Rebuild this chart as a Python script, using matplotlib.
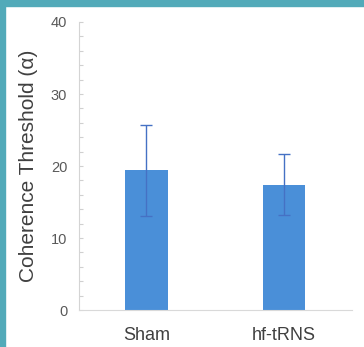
import numpy as np
import matplotlib.pyplot as plt
from matplotlib.ticker import MultipleLocator

plt.rcParams['font.family'] = ['Liberation Sans', 'DejaVu Sans']

groups = ["Sham", "hf-tRNS"]
means = [19.4, 17.4]
errors = [6.3, 4.2]

fig = plt.figure(figsize=(3.64, 3.47), dpi=100)
fig.patch.set_facecolor("white")

# teal frame at top and left edges
fig.patches.append(plt.Rectangle((0, 0), 0.015, 1, transform=fig.transFigure,
                                 color="#52aab9", zorder=0))
fig.patches.append(plt.Rectangle((0, 0.982), 1, 0.018, transform=fig.transFigure,
                                 color="#52aab9", zorder=0))

ax = fig.add_axes([0.217, 0.1066, 0.75, 0.83])
x = np.arange(len(groups))
ax.bar(x, means, width=0.31, color="#4a8fd8", zorder=2)
ax.errorbar(x, means, yerr=errors, fmt="none", ecolor="#4571c4",
            elinewidth=1.0, capsize=4, capthick=1.0, zorder=3)

ax.set_xlim(-0.49, 1.495)
ax.set_ylim(0, 40)
ax.yaxis.set_major_locator(MultipleLocator(10))
ax.yaxis.set_minor_locator(MultipleLocator(2))
ax.set_xticks(x)
ax.set_xticklabels(groups)

for s in ["top", "right"]:
    ax.spines[s].set_visible(False)
ax.spines["left"].set_color("#d4d4d4")
ax.spines["bottom"].set_color("#d9d9d9")

ax.tick_params(axis="y", which="both", direction="in", length=3, width=0.8,
               color="#d0d0d0", labelsize=10.5, labelcolor="#595959", pad=8.5)
ax.tick_params(axis="x", length=0, labelsize=13, labelcolor="#404040", pad=12)
ax.set_ylabel("Coherence Threshold (α)", fontsize=15, color="#404040", labelpad=9)

fig.savefig("out.png", dpi=100)
